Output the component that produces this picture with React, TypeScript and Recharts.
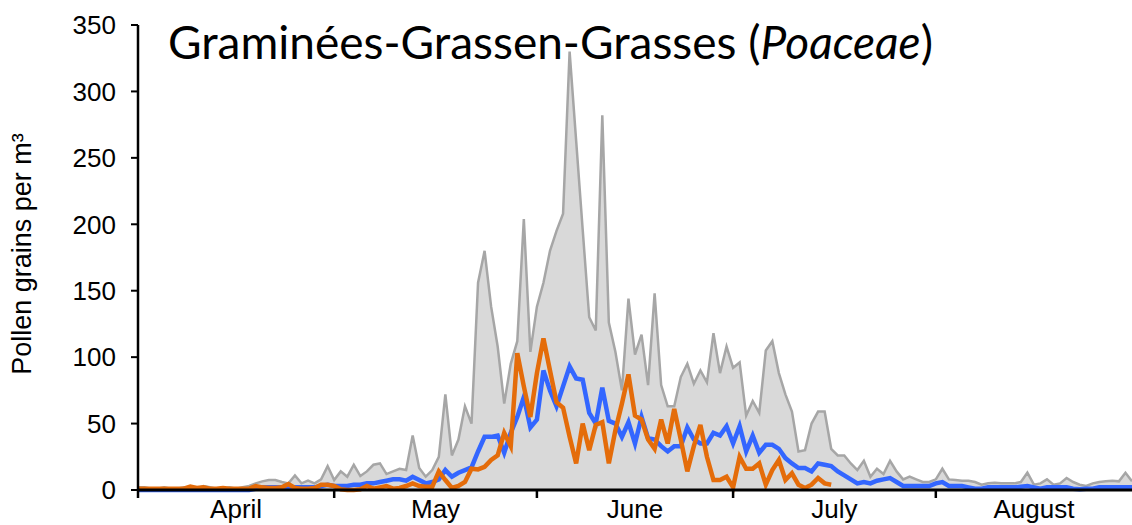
import { ComposedChart, Area, Line, XAxis, YAxis } from "recharts";

// daily values, 1 April (day 0) to 31 August (day 152)
const maxValues = [
  2, 2, 1, 1, 2, 1, 1, 2, 2, 1,
  3, 2, 1, 1, 2, 1, 2, 3, 5, 6.5,
  7.5, 7.5, 6, 5, 11, 5, 7, 5, 8, 18,
  7.5, 14, 10, 19, 10.5, 14, 19, 20, 12, 14,
  16, 15, 41, 16.5, 10, 15, 25, 72, 26, 38,
  63, 50, 156, 180, 138, 108, 65, 95, 112, 204,
  104, 138, 156, 180, 195, 208, 330, 263, 196, 130,
  120, 282, 126, 104, 75, 144, 102, 117, 79, 148,
  79, 63, 63, 85, 95, 80, 90, 81, 118, 88,
  108, 92, 96, 56, 67, 58, 105, 112, 88, 72,
  59, 29, 30, 50, 59, 59, 31, 26, 26, 20,
  15, 22, 10, 16, 12, 22, 14, 8, 10, 8,
  6, 6, 8, 16, 8, 7.5, 7, 7, 6, 4,
  5, 5.5, 5, 5, 5, 6, 13, 4, 5, 8,
  4, 5, 9, 6, 4, 3, 5, 6, 6.5, 7,
  6.5, 13, 6.5,
];

const meanValues = [
  0, 0, 0, 0, 0, 0, 0, 0, 0, 0,
  0, 0, 0, 0, 0, 0, 0, 0, 1, 2,
  2, 2, 2, 2, 2, 2, 2, 2, 3, 4,
  3, 3, 3, 4, 4, 5, 5, 6, 7, 8,
  8, 7, 10, 7.5, 5, 6, 8, 15, 10, 13,
  15, 17, 29, 40, 40, 41, 28, 43, 55, 70,
  47, 53, 90, 75, 63, 78, 93, 84, 83, 58,
  50, 77, 52, 50, 40, 51, 35, 55, 39, 38,
  33, 29, 33, 33, 47, 38, 35, 35, 43, 41,
  48, 35, 48, 29, 41, 28, 34, 34, 31, 24,
  20, 16.5, 16.5, 14, 20, 19, 18, 14, 11, 8,
  5, 6, 5, 7, 8, 9, 6, 3, 3, 3,
  3, 3, 5, 6, 3, 3, 3, 2, 1, 1,
  2, 2, 2, 2, 2, 2.5, 3, 2, 1, 2,
  2, 2, 2, 1, 0.5, 1, 1, 2, 2, 2,
  2, 2, 2,
];

// current season, stops mid July
const yearValues = [
  1, 1, 1, 1, 1, 1, 1, 1, 2.5, 1.5,
  2, 1, 1, 1.5, 1, 1, 1, 1, 3, 2,
  1.5, 1.5, 2, 4.5, 1.5, 1, 1, 1.5, 4, 4,
  3, 0.5, 0, 0, 0.5, 3, 1, 2, 3, 1,
  1.5, 3, 5, 3, 2.5, 2.5, 14, 7.5, 1.5, 3,
  6, 16, 15.5, 17.5, 22.6, 26, 43, 33, 103, 78,
  55, 88, 114, 90, 66, 62, 40, 20, 50, 30,
  49, 51, 20, 45, 65, 87, 56, 53, 38, 31,
  53, 35, 61, 38, 14, 33, 49, 25, 7.5, 7.5,
  10, 2, 25, 16, 16, 20, 4, 15, 22.6, 7.5,
  12.6, 4, 1.5, 4, 9, 5, 4,
];

const monthStarts = [0, 30, 61, 91, 122];
const monthMids = [15, 45.5, 76, 106.5, 137];
const monthNames = ["April", "May", "June", "July", "August"];
const yTicks = [0, 50, 100, 150, 200, 250, 300, 350];

const data = maxValues.map((v, i) => ({
  day: i,
  max: v,
  mean: meanValues[i],
  year: i < yearValues.length ? yearValues[i] : null,
}));

const FONT = "'Liberation Sans', Arial, sans-serif";

function MonthTick(props: any) {
  const { x, y, payload } = props;
  const v = payload.value;
  if (monthStarts.includes(v)) {
    return <line x1={x} x2={x} y1={y} y2={y + 8} stroke="#000" strokeWidth={2.5} />;
  }
  const idx = monthMids.indexOf(v);
  return (
    <text x={x} y={y + 28} textAnchor="middle" fill="#000" fontSize={26} fontFamily={FONT}>
      {monthNames[idx]}
    </text>
  );
}

export default function App() {
  return (
    <div style={{ position: "absolute", left: 0, top: 0, width: 1132, height: 525, background: "#fff" }}>
      <ComposedChart width={1132} height={525} data={data} margin={{ top: 25, right: 0, bottom: 0, left: 0 }}>
        <XAxis
          dataKey="day"
          type="number"
          domain={[0, 152]}
          ticks={[...monthStarts, ...monthMids]}
          interval={0}
          tick={<MonthTick />}
          tickLine={false}
          tickSize={0}
          tickMargin={0}
          height={35}
          axisLine={{ stroke: "#000", strokeWidth: 3 }}
        />
        <YAxis
          domain={[0, 350]}
          ticks={yTicks}
          interval={0}
          width={138}
          tickSize={7}
          tickMargin={15}
          axisLine={{ stroke: "#000", strokeWidth: 2.5 }}
          tickLine={{ stroke: "#000", strokeWidth: 2 }}
          tick={{ fill: "#000", fontSize: 26, fontFamily: FONT }}
        />
        <Area
          type="linear"
          dataKey="max"
          fill="#d9d9d9"
          fillOpacity={1}
          stroke="#a6a6a6"
          strokeWidth={2.5}
          isAnimationActive={false}
        />
        <Line type="linear" dataKey="mean" stroke="#3366ff" strokeWidth={4.5} dot={false} isAnimationActive={false} />
        <Line type="linear" dataKey="year" stroke="#e46c0a" strokeWidth={4.5} dot={false} isAnimationActive={false} />
      </ComposedChart>
      <div
        style={{
          position: "absolute",
          left: 168,
          top: 19,
          fontFamily: "Lato, 'Open Sans', sans-serif",
          fontSize: 46,
          lineHeight: "46px",
          color: "#000",
          whiteSpace: "nowrap",
        }}
      >
        Graminées-Grassen-Grasses (<i>Poaceae</i>)
      </div>
      <div
        style={{
          position: "absolute",
          left: 22,
          top: 254,
          transform: "translate(-50%, -50%) rotate(-90deg)",
          fontFamily: FONT,
          fontSize: 27,
          color: "#000",
          whiteSpace: "nowrap",
        }}
      >
        Pollen grains per m³
      </div>
    </div>
  );
}
